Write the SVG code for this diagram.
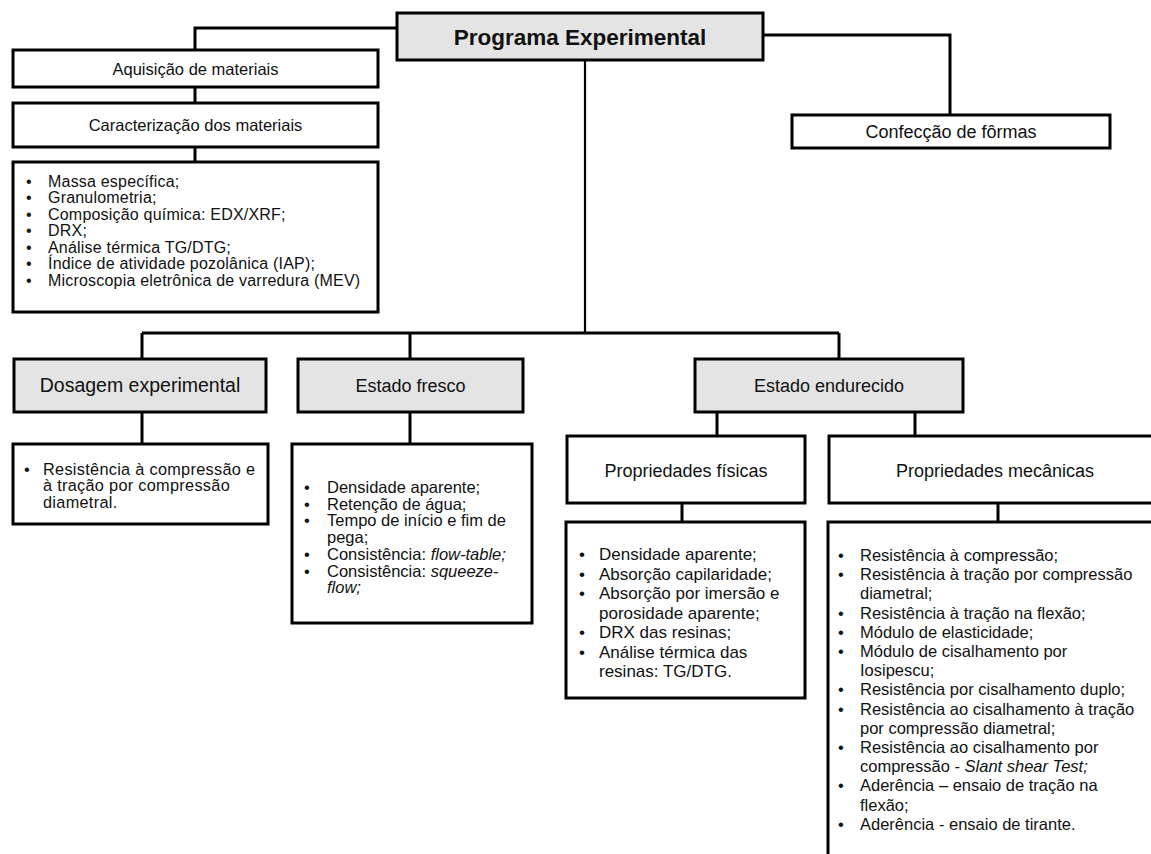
<svg xmlns="http://www.w3.org/2000/svg" width="1151" height="854" viewBox="0 0 1151 854">
<style>
.box{fill:#fff;stroke:#000;stroke-width:3}
.hd{fill:#e4e4e4;stroke:#000;stroke-width:3}
.con{fill:none;stroke:#000;stroke-width:3}
text{font-family:"Liberation Sans",Arial,sans-serif;fill:#111}
.c{text-anchor:middle}
.t15{font-size:16px;letter-spacing:0.2px}
.t16{font-size:16.5px}
.t17{font-size:17px}
.t18{font-size:18px}
.i{font-style:italic}
</style>
<rect width="1151" height="854" fill="#fff"/>
<g id="connectors">
<path class="con" d="M397,28 H195 V50"/>
<path class="con" d="M195,87 V103"/>
<path class="con" d="M195,147 V162"/>
<path class="con" d="M763,35 H950 V115"/>
<path class="con" d="M585,60 V333" style="stroke-width:2.2"/>
<path class="con" d="M142,333 H839"/>
<path class="con" d="M142,333 V359"/>
<path class="con" d="M410,333 V359"/>
<path class="con" d="M839,333 V359"/>
<path class="con" d="M142,412 V444"/>
<path class="con" d="M410,412 V444"/>
<path class="con" d="M717,412 V436"/>
<path class="con" d="M915,412 V436"/>
<path class="con" d="M682,503 V522"/>
<path class="con" d="M998,503 V522"/>
</g>
<g id="programa">
<rect class="hd" x="397" y="13" width="366" height="47"/>
<text class="c" x="580" y="45" style="font-size:22.5px;font-weight:bold">Programa Experimental</text>
</g>
<g id="aquisicao">
<rect class="box" x="13" y="50" width="365" height="37"/>
<text class="c t16" x="195.5" y="75">Aquisição de materiais</text>
</g>
<g id="caracterizacao">
<rect class="box" x="13" y="103" width="365" height="44"/>
<text class="c t16" x="195.5" y="131">Caracterização dos materiais</text>
</g>
<g id="caracterizacao-lista">
<rect class="box" x="13" y="162" width="365" height="150"/>
<g class="t15">
<text x="26" y="186.5">•</text><text x="48" y="186.5">Massa específica;</text>
<text x="26" y="203">•</text><text x="48" y="203">Granulometria;</text>
<text x="26" y="219.5">•</text><text x="48" y="219.5">Composição química: EDX/XRF;</text>
<text x="26" y="236">•</text><text x="48" y="236">DRX;</text>
<text x="26" y="252.5">•</text><text x="48" y="252.5">Análise térmica TG/DTG;</text>
<text x="26" y="269">•</text><text x="48" y="269">Índice de atividade pozolânica (IAP);</text>
<text x="26" y="285.5">•</text><text x="48" y="285.5">Microscopia eletrônica de varredura (MEV)</text>
</g>
</g>
<g id="confeccao">
<rect class="box" x="792" y="115" width="318" height="33"/>
<text class="c t18" x="951" y="138">Confecção de fôrmas</text>
</g>
<g id="dosagem">
<rect class="hd" x="14" y="359" width="252" height="53"/>
<text class="c" x="140" y="392" style="font-size:19.5px">Dosagem experimental</text>
</g>
<g id="dosagem-lista">
<rect class="box" x="13" y="444" width="255" height="80"/>
<g style="font-size:16.3px;letter-spacing:0.3px">
<text x="24" y="474.5">•</text><text x="43" y="474.5">Resistência à compressão e</text>
<text x="43" y="491">à tração por compressão</text>
<text x="43" y="507.5">diametral.</text>
</g>
</g>
<g id="estado-fresco">
<rect class="hd" x="298" y="359" width="225" height="53"/>
<text class="c t18" x="410.5" y="392">Estado fresco</text>
</g>
<g id="estado-fresco-lista">
<rect class="box" x="292" y="444" width="240" height="179"/>
<g class="t16">
<text x="304" y="493">•</text><text x="327" y="493">Densidade aparente;</text>
<text x="304" y="509.7">•</text><text x="327" y="509.7">Retenção de água;</text>
<text x="304" y="526.4">•</text><text x="327" y="526.4">Tempo de início e fim de</text>
<text x="327" y="543.1">pega;</text>
<text x="304" y="559.8">•</text><text x="327" y="559.8">Consistência: <tspan class="i">flow-table;</tspan></text>
<text x="304" y="576.5">•</text><text x="327" y="576.5">Consistência: <tspan class="i">squeeze-</tspan></text>
<text x="327" y="593.2" class="i">flow;</text>
</g>
</g>
<g id="estado-endurecido">
<rect class="hd" x="695" y="359" width="268" height="53"/>
<text class="c t18" x="829" y="392">Estado endurecido</text>
</g>
<g id="propriedades-fisicas">
<rect class="box" x="567" y="436" width="238" height="67"/>
<text class="c t18" x="686" y="477">Propriedades físicas</text>
</g>
<g id="propriedades-mecanicas">
<rect class="box" x="829" y="436" width="331" height="67"/>
<text class="c t18" x="995" y="477">Propriedades mecânicas</text>
</g>
<g id="fisicas-lista">
<rect class="box" x="566" y="522" width="239" height="176"/>
<g class="t17">
<text x="579" y="560">•</text><text x="599" y="560">Densidade aparente;</text>
<text x="579" y="579.5">•</text><text x="599" y="579.5">Absorção capilaridade;</text>
<text x="579" y="599">•</text><text x="599" y="599">Absorção por imersão e</text>
<text x="599" y="618.5">porosidade aparente;</text>
<text x="579" y="638">•</text><text x="599" y="638">DRX das resinas;</text>
<text x="579" y="657.5">•</text><text x="599" y="657.5">Análise térmica das</text>
<text x="599" y="677">resinas: TG/DTG.</text>
</g>
</g>
<g id="mecanicas-lista">
<rect class="box" x="828" y="522" width="332" height="350"/>
<g class="t16">
<text x="838" y="561">•</text><text x="860" y="561">Resistência à compressão;</text>
<text x="838" y="580.2">•</text><text x="860" y="580.2">Resistência à tração por compressão</text>
<text x="860" y="599.4">diametral;</text>
<text x="838" y="618.6">•</text><text x="860" y="618.6">Resistência à tração na flexão;</text>
<text x="838" y="637.8">•</text><text x="860" y="637.8">Módulo de elasticidade;</text>
<text x="838" y="657">•</text><text x="860" y="657">Módulo de cisalhamento por</text>
<text x="860" y="676.2">Iosipescu;</text>
<text x="838" y="695.4">•</text><text x="860" y="695.4">Resistência por cisalhamento duplo;</text>
<text x="838" y="714.6">•</text><text x="860" y="714.6">Resistência ao cisalhamento à tração</text>
<text x="860" y="733.8">por compressão diametral;</text>
<text x="838" y="753">•</text><text x="860" y="753">Resistência ao cisalhamento por</text>
<text x="860" y="772.2">compressão - <tspan class="i">Slant shear Test;</tspan></text>
<text x="838" y="791.4">•</text><text x="860" y="791.4">Aderência – ensaio de tração na</text>
<text x="860" y="810.6">flexão;</text>
<text x="838" y="829.8">•</text><text x="860" y="829.8">Aderência - ensaio de tirante.</text>
</g>
</g>
</svg>
